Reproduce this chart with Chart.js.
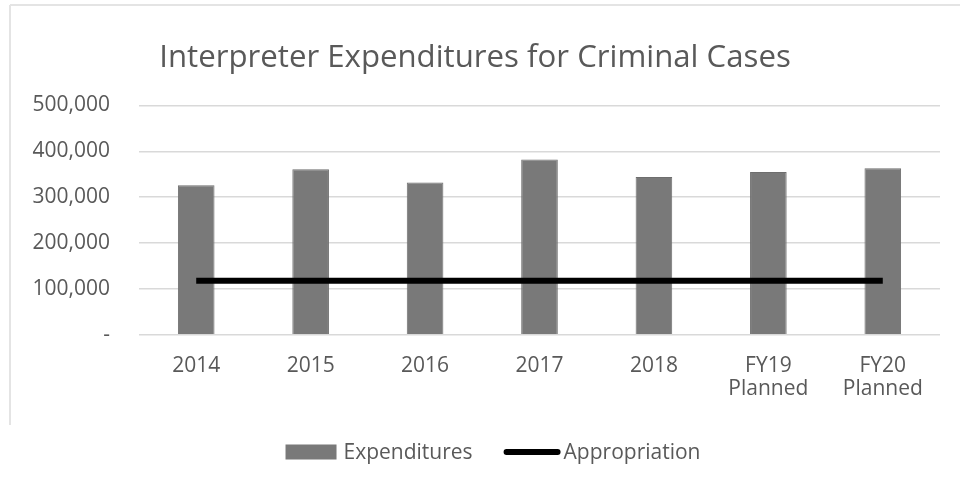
<!DOCTYPE html>
<html>
<head>
<meta charset="utf-8">
<script src="https://cdn.jsdelivr.net/npm/chart.js@4/dist/chart.umd.min.js"></script>
<style>
  html, body { margin: 0; padding: 0; background: #ffffff; }
  #wrap { position: relative; width: 960px; height: 487px; }
</style>
</head>
<body>
<div id="wrap"><canvas id="chart" width="960" height="487"></canvas></div>
<script>
// Fiscal years shown on the category axis
const categories = ['2014', '2015', '2016', '2017', '2018', ['FY19', 'Planned'], ['FY20', 'Planned']];
// Interpreter spending per year (dollars)
const expenditures = [326000, 361000, 332000, 382000, 344000, 355000, 363000];
// Budgeted appropriation (dollars)
const appropriation = [118000, 118000, 118000, 118000, 118000, 118000, 118000];
// Value axis ticks
const yTicks = [0, 100000, 200000, 300000, 400000, 500000];

const FONT = '"Open Sans", sans-serif';
const TEXT = '#595959';

// Faint frame around the chart object
const framePlugin = {
  id: 'frame',
  beforeDraw(chart) {
    const ctx = chart.ctx;
    ctx.save();
    ctx.strokeStyle = '#e4e4e4';
    ctx.lineWidth = 2;
    ctx.beginPath();
    ctx.moveTo(10, 5);
    ctx.lineTo(960, 5);
    ctx.moveTo(10, 5);
    ctx.lineTo(10, 425);
    ctx.stroke();
    ctx.restore();
  }
};

// Legend row under the axis: swatch box for the bars, thick stroke for the line
const legendRow = {
  id: 'legendRow',
  afterDraw(chart) {
    const ctx = chart.ctx;
    const bars = chart.data.datasets.find(d => d.type === 'bar');
    const line = chart.data.datasets.find(d => d.type === 'line');
    const cy = 452;
    const boxW = 51, boxH = 15, lineW = 57;
    ctx.save();
    ctx.font = '21px ' + FONT;
    ctx.textBaseline = 'middle';
    const w1 = ctx.measureText(bars.label).width;
    const w2 = ctx.measureText(line.label).width;
    const total = boxW + 7 + w1 + 31 + lineW + 3 + w2;
    let x = chart.width / 2 + 13 - total / 2;
    ctx.fillStyle = bars.backgroundColor;
    ctx.fillRect(x, cy - boxH / 2, boxW, boxH);
    x += boxW + 7;
    ctx.fillStyle = TEXT;
    ctx.fillText(bars.label, x, cy + 1);
    x += w1 + 31;
    ctx.strokeStyle = line.borderColor;
    ctx.lineWidth = line.borderWidth;
    ctx.lineCap = 'round';
    ctx.beginPath();
    ctx.moveTo(x + 3, cy);
    ctx.lineTo(x + lineW - 3, cy);
    ctx.stroke();
    x += lineW + 3;
    ctx.fillStyle = TEXT;
    ctx.fillText(line.label, x, cy + 1);
    ctx.restore();
  }
};

new Chart(document.getElementById('chart'), {
  data: {
    labels: categories,
    datasets: [
      {
        type: 'line',
        label: 'Appropriation',
        data: appropriation,
        borderColor: '#000000',
        backgroundColor: '#000000',
        borderWidth: 6,
        pointRadius: 0,
        order: 0
      },
      {
        type: 'bar',
        label: 'Expenditures',
        data: expenditures,
        backgroundColor: '#797979',
        borderColor: '#6e6e6e',
        borderWidth: 1,
        categoryPercentage: 1,
        barPercentage: 0.32,
        order: 1
      }
    ]
  },
  options: {
    responsive: false,
    animation: false,
    layout: { padding: { top: 39, left: 10, right: 20, bottom: 66 } },
    plugins: {
      title: {
        display: true,
        text: 'Interpreter Expenditures for Criminal Cases',
        color: TEXT,
        font: { family: FONT, size: 31.2, weight: 'normal', lineHeight: 1.2 },
        padding: { top: 0, bottom: 29 }
      },
      legend: { display: false },
      tooltip: { enabled: false }
    },
    scales: {
      x: {
        grid: { display: false, drawTicks: false },
        border: { display: false },
        ticks: {
          color: TEXT,
          font: { family: FONT, size: 21, lineHeight: 1.1 },
          padding: 20,
          maxRotation: 0
        }
      },
      y: {
        min: 0,
        max: 500000,
        afterBuildTicks(scale) { scale.ticks = yTicks.map(v => ({ value: v })); },
        afterFit(scale) { scale.width = 129; },
        grid: { color: '#d9d9d9', lineWidth: 1.5, drawTicks: false },
        border: { display: false },
        ticks: {
          color: TEXT,
          font: { family: FONT, size: 21 },
          padding: 29,
          callback: v => v === 0 ? '-' : v.toLocaleString('en-US')
        }
      }
    }
  },
  plugins: [framePlugin, legendRow]
});
</script>
</body>
</html>
